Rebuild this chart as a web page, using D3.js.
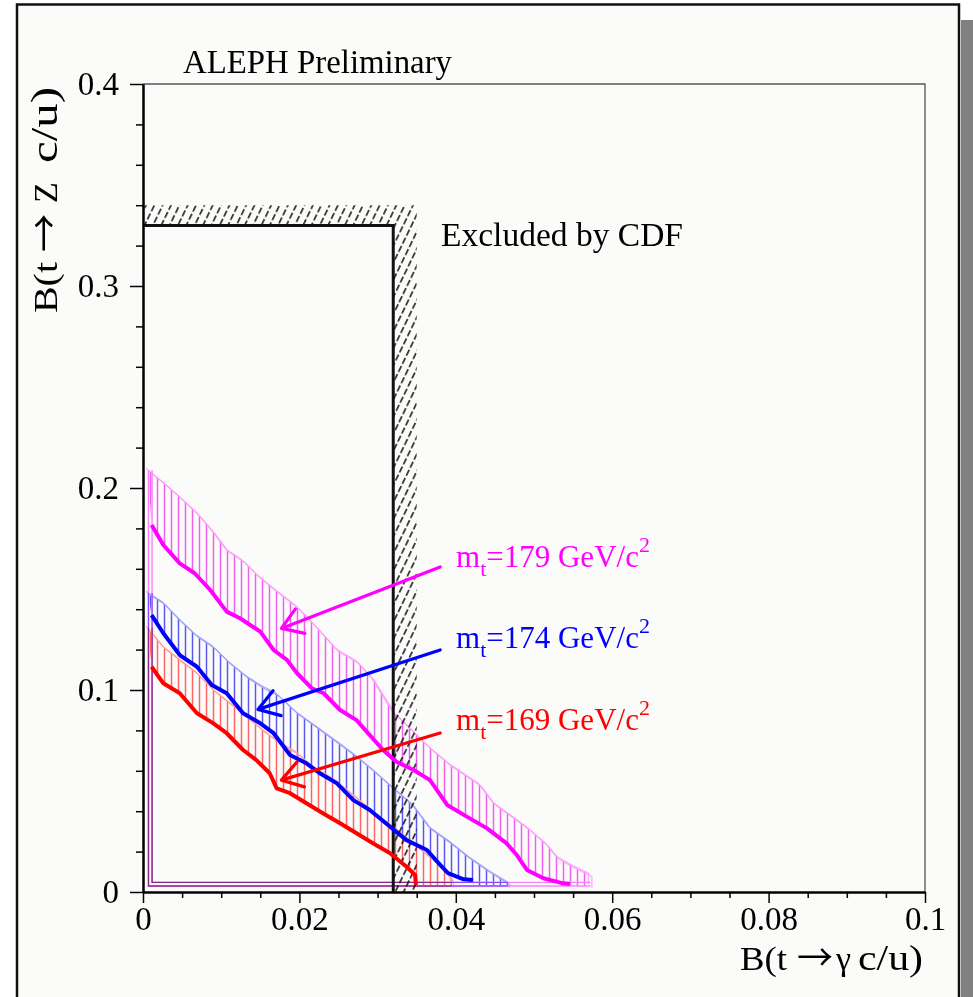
<!DOCTYPE html>
<html><head><meta charset="utf-8">
<script src="https://cdn.jsdelivr.net/npm/d3@7"></script>
<style>
body{margin:0;background:#fff}
svg{display:block}
svg{font-family:"Liberation Serif","DejaVu Serif",serif}
</style>
</head><body>
<svg id="c" width="973" height="997"></svg>
<script>
// ---------------- data ----------------
const xTicks = [0, 0.02, 0.04, 0.06, 0.08, 0.1];
const xTickLabels = ["0", "0.02", "0.04", "0.06", "0.08", "0.1"];
const yTicks = [0, 0.1, 0.2, 0.3, 0.4];
const yTickLabels = ["0", "0.1", "0.2", "0.3", "0.4"];
const xMinorStep = 0.005;
const yMinorStep = 0.02;

// CDF exclusion limits
const cdfGamma = 0.032;   // B(t -> gamma q) limit
const cdfZ = 0.33;        // B(t -> Z q) limit
const cdfHatch = [0.035, 0.34];

// limit curves (central) and outer band edges, [B(t->gamma c/u), B(t->Z c/u)]
const m179Center = [[0.0011,0.1817],[0.0026,0.1718],[0.0047,0.1627],[0.0066,0.1578],[0.0086,0.1495],[0.0107,0.1388],[0.0124,0.1355],[0.0150,0.1289],[0.0167,0.1198],[0.0184,0.1149],[0.0197,0.1083],[0.0216,0.1008],[0.0231,0.0984],[0.0252,0.0901],[0.0273,0.0851],[0.0290,0.0777],[0.0307,0.0703],[0.0324,0.0645],[0.0346,0.0604],[0.0367,0.0554],[0.0389,0.0431],[0.0414,0.0373],[0.0440,0.0315],[0.0465,0.0241],[0.0478,0.0183],[0.0491,0.0109],[0.0512,0.0068],[0.0537,0.0043],[0.0546,0.0040]];
const m179Upper = [[0.0006,0.2089],[0.0028,0.2020],[0.0047,0.1955],[0.0069,0.1876],[0.0090,0.1782],[0.0107,0.1693],[0.0128,0.1639],[0.0146,0.1569],[0.0166,0.1505],[0.0197,0.1411],[0.0223,0.1307],[0.0248,0.1198],[0.0274,0.1139],[0.0294,0.1054],[0.0320,0.0891],[0.0341,0.0812],[0.0367,0.0713],[0.0393,0.0629],[0.0431,0.0530],[0.0448,0.0441],[0.0469,0.0381],[0.0495,0.0307],[0.0517,0.0233],[0.0529,0.0173],[0.0546,0.0134],[0.0572,0.0084]];

const m174Center = [[0.0011,0.1371],[0.0026,0.1281],[0.0047,0.1173],[0.0069,0.1115],[0.0088,0.1025],[0.0107,0.0984],[0.0128,0.0885],[0.0150,0.0835],[0.0167,0.0786],[0.0188,0.0678],[0.0209,0.0637],[0.0226,0.0588],[0.0248,0.0538],[0.0269,0.0455],[0.0290,0.0406],[0.0316,0.0323],[0.0337,0.0257],[0.0363,0.0208],[0.0380,0.0134],[0.0390,0.0093],[0.0410,0.0063],[0.0422,0.0059]];
const m174Upper = [[0.0006,0.1480],[0.0026,0.1431],[0.0047,0.1347],[0.0069,0.1267],[0.0090,0.1213],[0.0111,0.1134],[0.0133,0.1064],[0.0153,0.1015],[0.0171,0.0980],[0.0197,0.0886],[0.0222,0.0817],[0.0248,0.0743],[0.0274,0.0668],[0.0294,0.0604],[0.0320,0.0515],[0.0345,0.0431],[0.0367,0.0317],[0.0392,0.0248],[0.0418,0.0168],[0.0444,0.0099],[0.0467,0.0045]];

const m169Center = [[0.0011,0.1115],[0.0026,0.1033],[0.0047,0.0984],[0.0069,0.0885],[0.0090,0.0835],[0.0107,0.0786],[0.0128,0.0703],[0.0145,0.0653],[0.0162,0.0588],[0.0171,0.0513],[0.0188,0.0489],[0.0209,0.0439],[0.0230,0.0390],[0.0252,0.0340],[0.0273,0.0291],[0.0294,0.0241],[0.0316,0.0192],[0.0337,0.0125],[0.0348,0.0084],[0.0349,0.0035]];
const m169Upper = [[0.0006,0.1307],[0.0026,0.1213],[0.0047,0.1149],[0.0069,0.1084],[0.0090,0.1000],[0.0111,0.0936],[0.0133,0.0866],[0.0153,0.0802],[0.0175,0.0738],[0.0197,0.0688],[0.0217,0.0619],[0.0239,0.0569],[0.0261,0.0505],[0.0281,0.0441],[0.0303,0.0371],[0.0325,0.0307],[0.0345,0.0243],[0.0367,0.0173],[0.0389,0.0099],[0.0395,0.0059]];

const bandFloor = 0.0030;
const bandLeft = 0.0007;

// arrows: [start, tip]
const arrow179 = [[0.0380,0.1609],[0.0177,0.1305]];
const arrow174 = [[0.0380,0.1198],[0.0147,0.0904]];
const arrow169 = [[0.0380,0.0787],[0.0177,0.0554]];

const massLabels = ["179", "174", "169"];

// ---------------- drawing ----------------
const W = 973, H = 997;
const svg = d3.select("#c");
const x = d3.scaleLinear().domain([0, 0.1]).range([143, 925]);
const y = d3.scaleLinear().domain([0, 0.4]).range([892, 84]);
const line = d3.line().x(d => x(d[0])).y(d => y(d[1]));

const defs = svg.append("defs");
defs.append("clipPath").attr("id", "plot")
  .append("rect").attr("x", x(0)).attr("y", y(0.4))
  .attr("width", x(0.1) - x(0)).attr("height", y(0) - y(0.4));

// page background and frame
svg.append("rect").attr("width", W).attr("height", H).attr("fill", "#fff");
svg.append("rect").attr("x", 961).attr("y", 20).attr("width", 12).attr("height", H).attr("fill", "#808080");
svg.append("rect").attr("x", 17).attr("y", 4.5).attr("width", 942).attr("height", H + 20)
  .attr("fill", "#fbfcfa").attr("stroke", "#111").attr("stroke-width", 2.5);

const bands = [
  {id: "m", label: massLabels[0], center: m179Center, upper: m179Upper, arrow: arrow179,
   color: "#ff00ff", hatch: "#f060f0", edge: "#ff9cff", close: "#ff80ff", ty: 567},
  {id: "b", label: massLabels[1], center: m174Center, upper: m174Upper, arrow: arrow174,
   color: "#0000ff", hatch: "#5858f0", edge: "#a0a0ff", close: "#8c8cff", ty: 648},
  {id: "r", label: massLabels[2], center: m169Center, upper: m169Upper, arrow: arrow169,
   color: "#ff0000", hatch: "#ff6464", edge: "#ffa0a0", close: "#ff8c8c", ty: 730}
];

bands.forEach(b => {
  const p = defs.append("pattern").attr("id", "h" + b.id)
    .attr("patternUnits", "userSpaceOnUse").attr("width", 7).attr("height", 10);
  p.append("line").attr("x1", 3.5).attr("x2", 3.5).attr("y1", -1).attr("y2", 11)
    .attr("stroke", b.hatch).attr("stroke-width", 1.5);
});
const cp = defs.append("pattern").attr("id", "hcdf")
  .attr("patternUnits", "userSpaceOnUse").attr("width", 7.5).attr("height", 9)
  .attr("patternTransform", "rotate(26)");
cp.append("line").attr("x1", 3.7).attr("x2", 3.7).attr("y1", 0).attr("y2", 9)
  .attr("stroke", "#000").attr("stroke-width", 1.4).attr("stroke-dasharray", "6.5,2.5");

const g = svg.append("g").attr("clip-path", "url(#plot)");

// band hatching
bands.forEach(b => {
  const last = b.upper[b.upper.length - 1];
  const cl = b.center[b.center.length - 1];
  const poly = b.upper.concat([[last[0], bandFloor], [cl[0], bandFloor]], b.center.slice().reverse());
  g.append("path").attr("d", line(poly) + "Z").attr("fill", "url(#h" + b.id + ")");
});
// band outer edges (double thin lines)
bands.forEach(b => {
  const last = b.upper[b.upper.length - 1];
  const edge = b.upper.concat([[last[0], bandFloor]]);
  [-1.6, 1.6].forEach(o => {
    g.append("path").attr("d", line(edge)).attr("fill", "none")
      .attr("transform", `translate(${o},${o})`)
      .attr("stroke", b.edge).attr("stroke-width", 1.1);
  });
});
// band closures along the axes (double lines, overlapping colours multiply)
const Lg = g.append("g").style("isolation", "isolate");
bands.forEach(b => {
  const last = b.upper[b.upper.length - 1];
  [0, 3.6].forEach(o => {
    const d = `M${x(bandLeft) + o},${y(b.upper[0][1])}V${y(bandFloor) - o}H${x(last[0])}`;
    Lg.append("path").attr("d", d).attr("fill", "none")
      .attr("stroke", b.close).attr("stroke-width", 1.4)
      .style("mix-blend-mode", "multiply");
  });
});

// CDF exclusion
const cdfPoly = [[0, cdfHatch[1]], [cdfHatch[0], cdfHatch[1]], [cdfHatch[0], 0], [cdfGamma, 0], [cdfGamma, cdfZ], [0, cdfZ]];
g.append("path").attr("d", line(cdfPoly) + "Z").attr("fill", "url(#hcdf)");
g.append("path").attr("d", line([[0, cdfZ], [cdfGamma, cdfZ], [cdfGamma, 0]]))
  .attr("fill", "none").attr("stroke", "#111").attr("stroke-width", 3);

// central curves
bands.forEach(b => {
  g.append("path").attr("d", line(b.center)).attr("fill", "none")
    .attr("stroke", b.color).attr("stroke-width", 4).attr("stroke-linejoin", "round");
});

// arrows
bands.forEach(b => {
  const s = [x(b.arrow[0][0]), y(b.arrow[0][1])];
  const t = [x(b.arrow[1][0]), y(b.arrow[1][1])];
  const ang = Math.atan2(s[1] - t[1], s[0] - t[0]);
  const L = 24, a = 33 * Math.PI / 180;
  const p1 = [t[0] + L * Math.cos(ang + a), t[1] + L * Math.sin(ang + a)];
  const p2 = [t[0] + L * Math.cos(ang - a), t[1] + L * Math.sin(ang - a)];
  svg.append("path").attr("d", `M${s}L${t}M${p1}L${t}L${p2}`)
    .attr("fill", "none").attr("stroke", b.color).attr("stroke-width", 3.2)
    .attr("stroke-linecap", "round").attr("stroke-linejoin", "round");
});

// frame: top and right thin grey
svg.append("path").attr("d", `M${x(0)},${y(0.4)}H${x(0.1)}V${y(0)}`)
  .attr("fill", "none").attr("stroke", "#555").attr("stroke-width", 1.3);

// axes
function styleAxis(sel) {
  sel.attr("font-family", null);
  sel.select(".domain").attr("stroke", "#000").attr("stroke-width", 2);
  sel.selectAll(".tick line").attr("stroke", "#000").attr("stroke-width", 1.5);
  sel.selectAll("text").attr("fill", "#000").attr("font-size", 33);
}
const yMinor = d3.range(0, 0.4001, yMinorStep).filter(v => !yTicks.some(t => Math.abs(t - v) < 1e-9));
const xMinor = d3.range(0, 0.1001, xMinorStep).filter(v => !xTicks.some(t => Math.abs(t - v) < 1e-9));

svg.append("g").attr("transform", `translate(${x(0)},0)`)
  .call(d3.axisLeft(y).tickValues(yMinor).tickSize(7).tickSizeOuter(0).tickFormat(""))
  .call(styleAxis);
svg.append("g").attr("transform", `translate(${x(0)},0)`)
  .call(d3.axisLeft(y).tickValues(yTicks).tickSize(13).tickSizeOuter(0).tickPadding(11)
    .tickFormat((d, i) => yTickLabels[i]))
  .call(styleAxis);
svg.append("g").attr("transform", `translate(0,${y(0)})`)
  .call(d3.axisBottom(x).tickValues(xMinor).tickSize(6).tickSizeOuter(0).tickFormat(""))
  .call(styleAxis);
svg.append("g").attr("transform", `translate(0,${y(0)})`)
  .call(d3.axisBottom(x).tickValues(xTicks).tickSize(11).tickSizeOuter(0).tickPadding(4)
    .tickFormat((d, i) => xTickLabels[i]))
  .call(styleAxis);

// texts
svg.append("text").attr("x", 183).attr("y", 73).attr("font-size", 34)
  .attr("textLength", 269).attr("lengthAdjust", "spacingAndGlyphs").text("ALEPH Preliminary");
svg.append("text").attr("x", 441).attr("y", 246).attr("font-size", 34)
  .attr("textLength", 242).attr("lengthAdjust", "spacingAndGlyphs").text("Excluded by CDF");

// axis titles, laid out piece by piece along the text direction
function title(parent, pieces) {
  pieces.forEach(p => {
    const t = parent.append("text").attr("x", p.at).attr("y", 0)
      .attr("font-size", p.size || 34).text(p.s);
    if (p.font) t.style("font-family", p.font);
    if (p.len) t.attr("textLength", p.len).attr("lengthAdjust", p.adj || "spacingAndGlyphs");
    if (p.dy) t.attr("dy", p.dy);
  });
}
const arrowFont = '"Noto Sans CJK SC","Noto Sans CJK JP",sans-serif';
title(svg.append("g").attr("transform", "translate(740,970)"), [
  {s: "B(t", at: 0, len: 47},
  {s: "\u2192", at: 57, size: 36, font: arrowFont, dy: 1},
  {s: "\u03b3", at: 96},
  {s: "c/u)", at: 118, size: 36, len: 65}
]);
title(svg.append("g").attr("transform", "translate(57,313) rotate(-90)"), [
  {s: "B(t", at: 0, len: 51},
  {s: "\u2192", at: 61, size: 38, font: arrowFont, dy: 1},
  {s: "Z", at: 110},
  {s: "c/u)", at: 150, size: 38, len: 76}
]);

bands.forEach(b => {
  const t = svg.append("text").attr("x", 456).attr("y", b.ty).attr("font-size", 31).attr("fill", b.color);
  t.append("tspan").text("m");
  t.append("tspan").attr("font-size", 22).attr("dy", 9).text("t");
  t.append("tspan").attr("dy", -9).text("=" + b.label + " GeV/c");
  t.append("tspan").attr("font-size", 22).attr("dy", -15).text("2");
});
</script>
</body></html>
